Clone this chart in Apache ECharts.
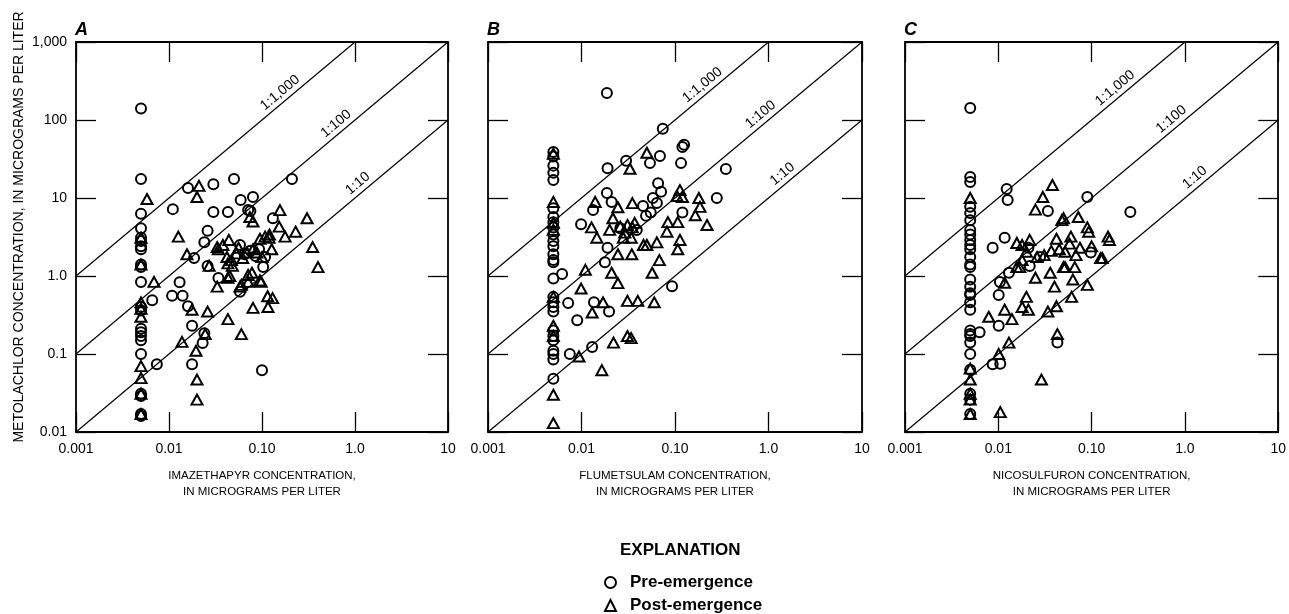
<!DOCTYPE html>
<html>
<head>
<meta charset="utf-8">
<script src="https://cdn.jsdelivr.net/npm/echarts@6/dist/echarts.min.js"></script>
<style>
html, body { margin: 0; padding: 0; background: #fff; }
#main { width: 1289px; height: 614px; }
</style>
</head>
<body>
<div id="main"></div>
<script>
// panel letters and axis titles
var panelNames = ['A', 'B', 'C'];
var xTitles = [
  'IMAZETHAPYR CONCENTRATION,\nIN MICROGRAMS PER LITER',
  'FLUMETSULAM CONCENTRATION,\nIN MICROGRAMS PER LITER',
  'NICOSULFURON CONCENTRATION,\nIN MICROGRAMS PER LITER'
];
var yTitle = 'METOLACHLOR CONCENTRATION, IN MICROGRAMS PER LITER';

// tick labels
var xTicks = [0.001, 0.01, 0.1, 1, 10];
var xTickLabels = ['0.001', '0.01', '0.10', '1.0', '10'];
var yTicks = [0.01, 0.1, 1, 10, 100, 1000];
var yTickLabels = ['0.01', '0.1', '1.0', '10', '100', '1,000'];

// ratio lines (metolachlor : herbicide)
var ratios = [1000, 100, 10];
var ratioLabels = ['1:1,000', '1:100', '1:10'];
var ratioLabelX = [[0.175, 0.7, 1.2], [0.22, 0.92, 1.58], [0.2, 0.8, 1.43]];

// A  imazethapyr
var preA = [
  [0.005,140],[0.005,17.5],[0.005,6.3],[0.005,4.1],[0.005,3.1],[0.005,2.8],[0.005,2.4],[0.005,2.2],
  [0.005,1.4],[0.005,1.3],[0.005,0.84],[0.005,0.40],[0.005,0.36],[0.005,0.21],[0.005,0.19],[0.005,0.17],
  [0.005,0.15],[0.005,0.10],[0.005,0.031],[0.005,0.029],[0.005,0.017],[0.005,0.016],
  [0.016,13.4],[0.03,15],[0.05,17.5],[0.21,17.5],[0.011,7.2],[0.059,9.4],[0.08,10.3],[0.03,6.6],
  [0.043,6.6],[0.071,7.0],[0.075,6.8],[0.131,5.5],[0.026,3.8],[0.024,2.7],[0.0186,1.7],[0.026,1.34],
  [0.034,0.94],[0.013,0.83],[0.058,2.5],[0.103,1.3],[0.058,0.63],[0.108,1.75],[0.093,2.2],[0.065,1.9],
  [0.075,2.1],[0.085,1.8],[0.0066,0.49],[0.0108,0.56],[0.014,0.56],[0.016,0.41],[0.0177,0.23],
  [0.023,0.138],[0.024,0.185],[0.0177,0.074],[0.0074,0.074],[0.10,0.062]
];
var postA = [
  [0.005,3.1],[0.005,1.4],[0.005,0.46],[0.005,0.38],[0.005,0.30],[0.005,0.07],[0.005,0.049],[0.005,0.031],
  [0.005,0.017],[0.0058,9.7],[0.021,14.3],[0.020,10.3],[0.0126,3.2],[0.0156,1.9],[0.033,2.35],[0.044,2.9],
  [0.074,5.7],[0.08,5.0],[0.156,7.0],[0.153,4.3],[0.119,3.1],[0.177,3.2],[0.23,3.7],[0.305,5.5],
  [0.35,2.35],[0.40,1.3],[0.127,2.2],[0.098,0.84],[0.071,1.03],[0.045,1.0],[0.058,0.73],[0.033,0.73],
  [0.0069,0.84],[0.115,0.55],[0.13,0.52],[0.116,0.40],[0.08,0.39],[0.043,0.28],[0.026,0.35],[0.0177,0.37],
  [0.06,0.18],[0.0138,0.143],[0.0245,0.18],[0.0195,0.11],[0.020,0.047],[0.020,0.026],[0.12,3.4],[0.108,3.2],
  [0.095,3.0],[0.034,2.2],[0.053,1.95],[0.069,2.0],[0.08,2.2],[0.088,2.0],[0.042,1.75],[0.047,1.6],
  [0.062,1.7],[0.1,1.75],[0.043,1.45],[0.048,1.35],[0.027,1.35],[0.078,1.1],[0.043,0.95],[0.071,0.84],
  [0.06,0.77],[0.095,0.88],[0.038,2.5],[0.056,2.3]
];

// B  flumetsulam
var preB = [
  [0.005,39],[0.005,34],[0.005,26],[0.005,21],[0.005,17],[0.005,7.4],[0.005,5.7],[0.005,4.9],[0.005,4.2],
  [0.005,3.4],[0.005,2.8],[0.005,2.4],[0.005,1.9],[0.005,1.6],[0.005,1.5],[0.005,0.93],[0.005,0.54],
  [0.005,0.46],[0.005,0.40],[0.005,0.35],[0.005,0.2],[0.005,0.17],[0.005,0.15],[0.005,0.11],[0.005,0.10],
  [0.005,0.085],[0.005,0.048],
  [0.0187,222],[0.074,77],[0.125,48],[0.12,45],[0.069,34.5],[0.054,28],[0.030,30],[0.019,24],[0.116,28],
  [0.35,23.5],[0.28,10],[0.0187,11.6],[0.021,8.9],[0.0133,7.0],[0.0099,4.6],[0.0455,7.9],[0.066,15.5],
  [0.071,12],[0.058,10],[0.064,8.6],[0.055,6.5],[0.12,6.5],[0.026,4.1],[0.039,3.9],[0.049,5.9],[0.019,2.3],
  [0.0178,1.5],[0.0062,1.06],[0.093,0.74],[0.0072,0.45],[0.0136,0.46],[0.0197,0.35],[0.009,0.27],
  [0.013,0.123],[0.0075,0.10]
];
var postB = [
  [0.005,37],[0.005,8.9],[0.005,4.8],[0.005,3.9],[0.005,0.54],[0.005,0.23],[0.005,0.17],[0.005,0.03],
  [0.005,0.013],[0.05,38],[0.033,23.7],[0.014,8.9],[0.0245,7.6],[0.035,8.6],[0.113,12.6],[0.105,10.6],
  [0.12,10.3],[0.18,10],[0.185,7.7],[0.22,4.5],[0.165,6.0],[0.0128,4.2],[0.0146,3.1],[0.02,3.9],
  [0.0217,5.5],[0.026,4.3],[0.029,3.6],[0.031,4.5],[0.035,4.2],[0.037,4.8],[0.028,3.1],[0.034,3.1],
  [0.05,2.5],[0.064,2.7],[0.084,4.9],[0.082,3.7],[0.107,4.9],[0.113,2.9],[0.107,2.2],[0.0345,1.9],
  [0.0245,1.9],[0.068,1.6],[0.057,1.1],[0.011,1.2],[0.021,1.1],[0.0245,0.81],[0.0099,0.69],[0.017,0.46],
  [0.013,0.34],[0.031,0.48],[0.04,0.48],[0.06,0.46],[0.031,0.17],[0.034,0.16],[0.022,0.14],[0.0094,0.093],
  [0.0165,0.062],[0.046,2.5]
];

// C  nicosulfuron
var preC = [
  [0.005,143],[0.005,18.6],[0.005,16],[0.005,7.7],[0.005,6.4],[0.005,5.2],[0.005,3.9],[0.005,3.4],
  [0.005,2.9],[0.005,2.5],[0.005,2.2],[0.005,1.75],[0.005,1.4],[0.005,1.3],[0.005,0.9],[0.005,0.73],
  [0.005,0.6],[0.005,0.57],[0.005,0.46],[0.005,0.37],[0.005,0.2],[0.005,0.18],[0.005,0.17],[0.005,0.14],
  [0.005,0.1],[0.005,0.063],[0.005,0.031],[0.005,0.026],[0.005,0.017],
  [0.0123,13],[0.0126,9.4],[0.09,10.3],[0.26,6.6],[0.034,6.8],[0.0117,3.1],[0.0087,2.3],[0.098,2.0],
  [0.028,1.75],[0.0217,1.34],[0.013,1.1],[0.0104,0.84],[0.0101,0.57],[0.0101,0.23],[0.0063,0.19],
  [0.043,0.14],[0.0087,0.074],[0.0105,0.075],[0.021,2.3]
];
var postC = [
  [0.005,10],[0.005,0.065],[0.005,0.047],[0.005,0.031],[0.005,0.026],[0.005,0.017],
  [0.038,14.7],[0.03,10.3],[0.025,7.1],[0.048,5.2],[0.05,5.5],[0.072,5.7],[0.09,4.2],[0.093,3.7],
  [0.15,3.2],[0.155,2.9],[0.13,1.7],[0.1,2.4],[0.06,3.2],[0.042,3.0],[0.0217,2.9],[0.0158,2.65],
  [0.018,2.5],[0.02,2.05],[0.026,1.75],[0.031,1.85],[0.037,2.1],[0.045,2.2],[0.052,2.05],[0.068,1.85],
  [0.018,1.6],[0.017,1.3],[0.0158,1.3],[0.05,1.3],[0.052,1.3],[0.066,1.3],[0.036,1.1],[0.063,0.9],
  [0.09,0.77],[0.025,0.95],[0.04,0.73],[0.0117,0.82],[0.061,0.54],[0.02,0.54],[0.042,0.41],[0.034,0.35],
  [0.0117,0.37],[0.018,0.4],[0.021,0.37],[0.014,0.28],[0.0079,0.3],[0.013,0.14],[0.0101,0.1],
  [0.043,0.18],[0.029,0.047],[0.0105,0.018],[0.125,1.7],[0.058,2.6],[0.075,2.3]
];

var preData = [preA, preB, preC];
var postData = [postA, postB, postC];

var FONT = '"Liberation Sans", Arial, sans-serif';
var gridPos = [{ left: 76, width: 372 }, { left: 488, width: 374 }, { left: 905, width: 374 }];

function tickFmt(ticks, labels) {
  return function (v) {
    for (var i = 0; i < ticks.length; i++) {
      if (Math.abs(Math.log10(ticks[i]) - Math.log10(v)) < 1e-6) return labels[i];
    }
    return '';
  };
}

var grids = [], xAxes = [], yAxes = [], series = [], titles = [];

for (var p = 0; p < 3; p++) {
  grids.push({ left: gridPos[p].left, width: gridPos[p].width, top: 42, height: 390 });

  var axisLine = { show: true, lineStyle: { color: '#000', width: 1.8 } };
  var tick = { show: true, inside: true, length: 20, lineStyle: { color: '#000', width: 1.3 } };

  // bottom + top x axes
  xAxes.push({
    type: 'log', logBase: 10, min: 0.001, max: 10, gridIndex: p, position: 'bottom',
    axisLine: axisLine, axisTick: tick, splitLine: { show: false },
    axisLabel: { show: true, margin: 10, color: '#000', fontSize: 14, fontFamily: FONT,
      showMinLabel: true, showMaxLabel: true, formatter: tickFmt(xTicks, xTickLabels) },
    name: xTitles[p], nameLocation: 'middle', nameGap: 36,
    nameTextStyle: { color: '#000', fontSize: 11.5, lineHeight: 16, fontFamily: FONT }
  });
  xAxes.push({
    type: 'log', logBase: 10, min: 0.001, max: 10, gridIndex: p, position: 'top',
    axisLine: axisLine, axisTick: tick, splitLine: { show: false }, axisLabel: { show: false }
  });

  // left + right y axes
  yAxes.push({
    type: 'log', logBase: 10, min: 0.01, max: 1000, gridIndex: p, position: 'left',
    axisLine: axisLine, axisTick: tick, splitLine: { show: false },
    axisLabel: { show: p === 0, margin: 9, color: '#000', fontSize: 14, fontFamily: FONT,
      showMinLabel: true, showMaxLabel: true, formatter: tickFmt(yTicks, yTickLabels) },
    name: p === 0 ? yTitle : '', nameLocation: 'middle', nameGap: 50,
    nameTextStyle: { color: '#000', fontSize: 14, fontFamily: FONT, padding: [0, 0, 0, 20] }
  });
  yAxes.push({
    type: 'log', logBase: 10, min: 0.01, max: 1000, gridIndex: p, position: 'right',
    axisLine: axisLine, axisTick: tick, splitLine: { show: false }, axisLabel: { show: false }
  });

  // ratio lines y = r * x, clipped to the plot box
  for (var k = 0; k < ratios.length; k++) {
    var r = ratios[k];
    var xEnd = Math.min(10, 1000 / r);
    series.push({
      type: 'line', xAxisIndex: 2 * p, yAxisIndex: 2 * p, silent: true, symbol: 'none',
      lineStyle: { color: '#000', width: 1.2, opacity: 1 }, z: 1,
      data: [[0.001, 0.001 * r], [xEnd, xEnd * r]]
    });
  }
  // ratio labels
  series.push({
    type: 'scatter', xAxisIndex: 2 * p, yAxisIndex: 2 * p, silent: true, symbolSize: 0,
    itemStyle: { opacity: 1 },
    label: { show: true, position: 'top', distance: 3, rotate: 40, formatter: '{b}',
      color: '#000', fontSize: 14, fontFamily: FONT },
    data: ratios.map(function (r, k) {
      return { name: ratioLabels[k], value: [ratioLabelX[p][k], ratioLabelX[p][k] * r] };
    })
  });

  series.push({
    name: 'Pre-emergence', type: 'scatter', xAxisIndex: 2 * p, yAxisIndex: 2 * p,
    symbol: 'circle', symbolSize: 10, z: 3,
    itemStyle: { color: 'rgba(0,0,0,0)', borderColor: '#000', borderWidth: 2, opacity: 1 },
    data: preData[p]
  });
  series.push({
    name: 'Post-emergence', type: 'scatter', xAxisIndex: 2 * p, yAxisIndex: 2 * p,
    symbol: 'triangle', symbolSize: [11, 10], z: 3,
    itemStyle: { color: 'rgba(0,0,0,0)', borderColor: '#000', borderWidth: 2, opacity: 1 },
    data: postData[p]
  });

  titles.push({
    text: panelNames[p], left: gridPos[p].left - 1, top: 21, padding: 0,
    textStyle: { fontSize: 18, fontWeight: 'bold', fontStyle: 'italic', color: '#000', fontFamily: FONT }
  });
}

titles.push({
  text: 'EXPLANATION', left: 620, top: 542, padding: 0,
  textStyle: { fontSize: 17, fontWeight: 'bold', color: '#000', fontFamily: FONT }
});

var myChart = echarts.init(document.getElementById('main'));
myChart.setOption({
  animation: false,
  backgroundColor: '#fff',
  title: titles,
  grid: grids,
  xAxis: xAxes,
  yAxis: yAxes,
  legend: {
    data: ['Pre-emergence', 'Post-emergence'],
    orient: 'vertical', left: 604, top: 574, padding: 0,
    itemWidth: 11, itemHeight: 11, itemGap: 6,
    textStyle: { fontSize: 17, fontWeight: 'bold', color: '#000', fontFamily: FONT, padding: [0, 0, 0, 9] }
  },
  series: series
});
window.addEventListener('resize', myChart.resize);
</script>
</body>
</html>
